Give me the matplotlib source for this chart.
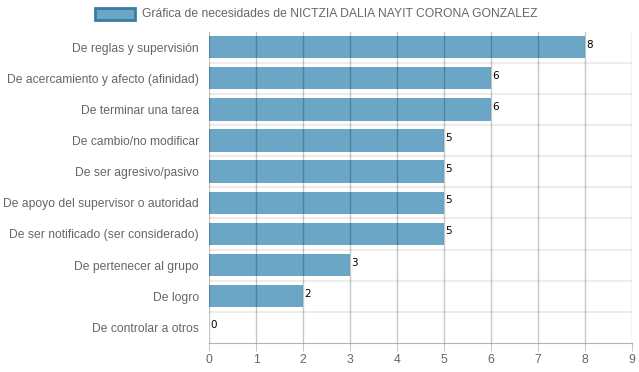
import matplotlib
matplotlib.use("Agg")
import matplotlib.pyplot as plt
from matplotlib.patches import Rectangle

categories = ["De reglas y supervisión", "De acercamiento y afecto (afinidad)",
              "De terminar una tarea", "De cambio/no modificar", "De ser agresivo/pasivo",
              "De apoyo del supervisor o autoridad", "De ser notificado (ser considerado)",
              "De pertenecer al grupo", "De logro", "De controlar a otros"]
values = [8, 6, 6, 5, 5, 5, 5, 3, 2, 0]
xticks = list(range(0, 10))
legend_label = "Gráfica de necesidades de NICTZIA DALIA NAYIT CORONA GONZALEZ"

plt.rcParams['font.family'] = ['Liberation Sans', 'DejaVu Sans']
fig = plt.figure(figsize=(6.39, 3.72), dpi=100)
L, R, T, B = 209/639, 632/639, 1-31.5/372, 1-343/372
ax = fig.add_axes([L, B, R-L, T-B])

n = len(categories)
ypos = list(range(n))
bar_color = (0.42, 0.65, 0.78)
ax.barh(ypos, values, height=0.72, color=bar_color, zorder=1)
ax.set_ylim(n-0.5, -0.5)
ax.set_xlim(0, 9)
ax.set_xticks(xticks)
ax.set_yticks(ypos)
ax.set_yticklabels(categories)

for v, y in zip(values, ypos):
    ax.text(v + 0.02, y - 0.08, str(v), fontsize=7.5, color='black',
            ha='left', va='center', family=['DejaVu Sans'], zorder=3)

# vertical grid lines
for x in xticks:
    ax.axvline(x, color=(0, 0, 0, 0.22), lw=1, zorder=2)
# horizontal boundary lines
for k in range(n):
    ax.axhline(k - 0.5, color=(0, 0, 0, 0.07), lw=1.5, zorder=0)

for s in ['top', 'right', 'left']:
    ax.spines[s].set_visible(False)
ax.spines['bottom'].set_color((0, 0, 0, 0.3))
ax.tick_params(axis='x', colors=(0, 0, 0, 0.22), length=6, labelcolor='#666666',
               labelsize=8.7, pad=2)
ax.tick_params(axis='y', length=0, labelcolor='#666666', labelsize=8.7, pad=7.2)

# legend
fig.patches.append(Rectangle((95/639, 1-20/372), 40/639, 12/372, transform=fig.transFigure,
                             facecolor=bar_color, edgecolor=(0.22, 0.49, 0.65), lw=2))
fig.text(142/639, 1-14/372, legend_label, fontsize=8.7, color='#666666', va='center', ha='left')

fig.savefig("out.png", dpi=100)
